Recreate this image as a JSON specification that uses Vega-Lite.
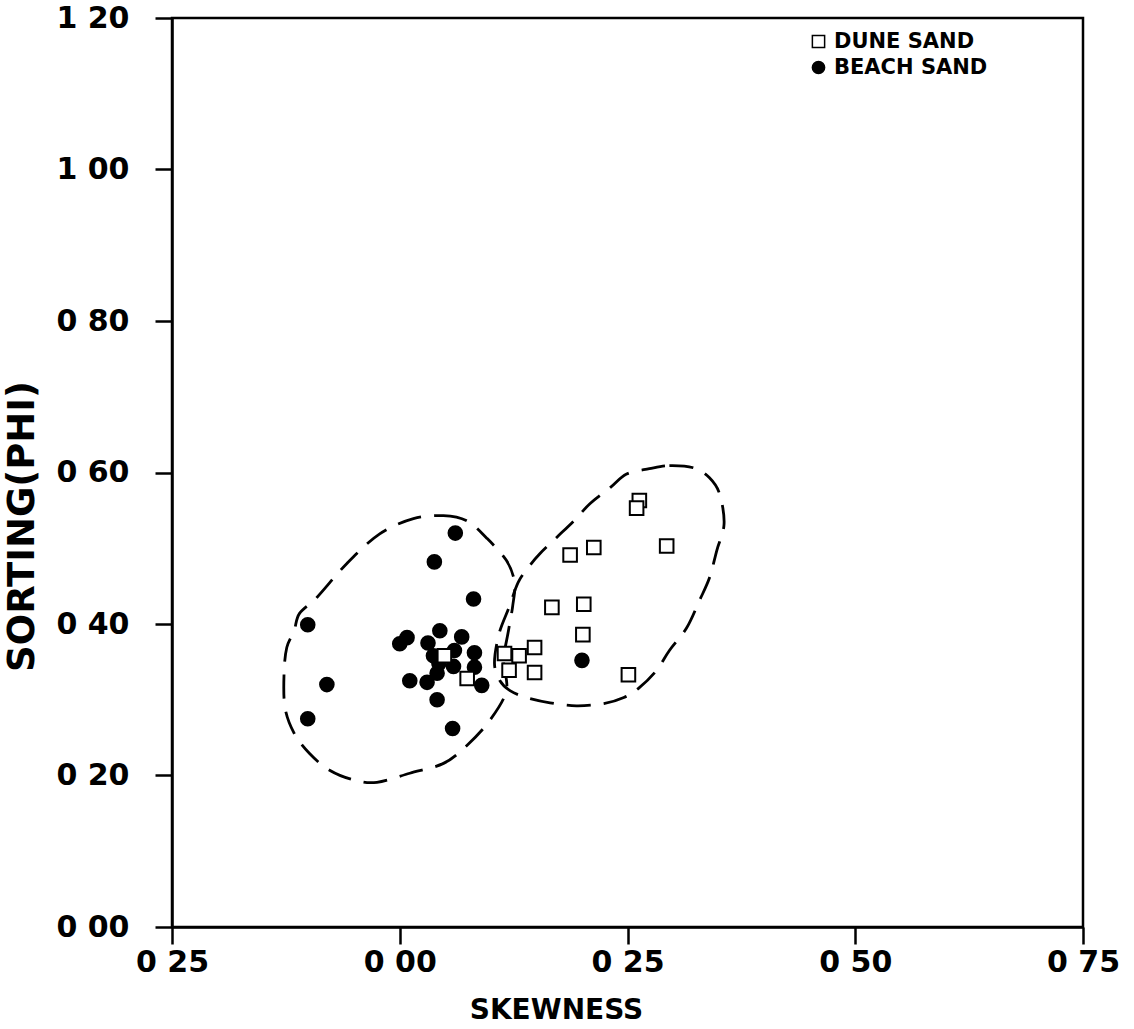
{
  "$schema": "https://vega.github.io/schema/vega-lite/v6.json",
  "width": 911,
  "height": 909,
  "autosize": {"type": "none"},
  "padding": {"left": 172, "top": 18, "right": 51, "bottom": 102},
  "background": "white",
  "config": {
    "view": {"stroke": "black", "strokeWidth": 2.5},
    "font": "DejaVu Sans",
    "axis": {
      "grid": false,
      "domainColor": "black",
      "domainWidth": 2.5,
      "tickColor": "black",
      "tickWidth": 2.5,
      "tickSize": 17,
      "labelFont": "DejaVu Sans",
      "labelFontWeight": "bold",
      "labelFontSize": 30,
      "labelColor": "black",
      "labelOverlap": false,
      "labelFlush": false,
      "labelBound": false,
      "titleColor": "black",
      "titleFont": "DejaVu Sans",
      "titleFontWeight": "bold"
    }
  },
  "datasets": {
    "outlines": [
      {"region": "beach", "i": 1, "x": 0.015, "y": 0.539},
      {"region": "beach", "i": 2, "x": 0.048, "y": 0.543},
      {"region": "beach", "i": 3, "x": 0.074, "y": 0.536},
      {"region": "beach", "i": 4, "x": 0.095, "y": 0.514},
      {"region": "beach", "i": 5, "x": 0.117, "y": 0.484},
      {"region": "beach", "i": 6, "x": 0.126, "y": 0.455},
      {"region": "beach", "i": 7, "x": 0.124, "y": 0.424},
      {"region": "beach", "i": 8, "x": 0.119, "y": 0.389},
      {"region": "beach", "i": 9, "x": 0.114, "y": 0.352},
      {"region": "beach", "i": 10, "x": 0.117, "y": 0.312},
      {"region": "beach", "i": 11, "x": 0.099, "y": 0.273},
      {"region": "beach", "i": 12, "x": 0.074, "y": 0.240},
      {"region": "beach", "i": 13, "x": 0.048, "y": 0.216},
      {"region": "beach", "i": 14, "x": 0.011, "y": 0.203},
      {"region": "beach", "i": 15, "x": -0.025, "y": 0.191},
      {"region": "beach", "i": 16, "x": -0.050, "y": 0.194},
      {"region": "beach", "i": 17, "x": -0.077, "y": 0.207},
      {"region": "beach", "i": 18, "x": -0.099, "y": 0.229},
      {"region": "beach", "i": 19, "x": -0.116, "y": 0.256},
      {"region": "beach", "i": 20, "x": -0.126, "y": 0.290},
      {"region": "beach", "i": 21, "x": -0.127, "y": 0.335},
      {"region": "beach", "i": 22, "x": -0.124, "y": 0.369},
      {"region": "beach", "i": 23, "x": -0.116, "y": 0.391},
      {"region": "beach", "i": 24, "x": -0.110, "y": 0.414},
      {"region": "beach", "i": 25, "x": -0.091, "y": 0.435},
      {"region": "beach", "i": 26, "x": -0.058, "y": 0.480},
      {"region": "beach", "i": 27, "x": -0.022, "y": 0.519},
      {"region": "dune", "i": 1, "x": 0.274, "y": 0.605},
      {"region": "dune", "i": 2, "x": 0.296, "y": 0.609},
      {"region": "dune", "i": 3, "x": 0.323, "y": 0.606},
      {"region": "dune", "i": 4, "x": 0.340, "y": 0.593},
      {"region": "dune", "i": 5, "x": 0.351, "y": 0.572},
      {"region": "dune", "i": 6, "x": 0.356, "y": 0.532},
      {"region": "dune", "i": 7, "x": 0.348, "y": 0.497},
      {"region": "dune", "i": 8, "x": 0.340, "y": 0.461},
      {"region": "dune", "i": 9, "x": 0.329, "y": 0.431},
      {"region": "dune", "i": 10, "x": 0.315, "y": 0.395},
      {"region": "dune", "i": 11, "x": 0.296, "y": 0.365},
      {"region": "dune", "i": 12, "x": 0.282, "y": 0.339},
      {"region": "dune", "i": 13, "x": 0.263, "y": 0.316},
      {"region": "dune", "i": 14, "x": 0.246, "y": 0.303},
      {"region": "dune", "i": 15, "x": 0.224, "y": 0.295},
      {"region": "dune", "i": 16, "x": 0.194, "y": 0.292},
      {"region": "dune", "i": 17, "x": 0.165, "y": 0.296},
      {"region": "dune", "i": 18, "x": 0.139, "y": 0.303},
      {"region": "dune", "i": 19, "x": 0.121, "y": 0.312},
      {"region": "dune", "i": 20, "x": 0.110, "y": 0.325},
      {"region": "dune", "i": 21, "x": 0.104, "y": 0.348},
      {"region": "dune", "i": 22, "x": 0.109, "y": 0.387},
      {"region": "dune", "i": 23, "x": 0.120, "y": 0.422},
      {"region": "dune", "i": 24, "x": 0.130, "y": 0.455},
      {"region": "dune", "i": 25, "x": 0.142, "y": 0.476},
      {"region": "dune", "i": 26, "x": 0.154, "y": 0.493},
      {"region": "dune", "i": 27, "x": 0.172, "y": 0.514},
      {"region": "dune", "i": 28, "x": 0.191, "y": 0.536},
      {"region": "dune", "i": 29, "x": 0.209, "y": 0.559},
      {"region": "dune", "i": 30, "x": 0.231, "y": 0.580},
      {"region": "dune", "i": 31, "x": 0.249, "y": 0.598}
    ],
    "samples": [
      {"type": "BEACH SAND", "skewness": 0.061, "sorting": 0.520},
      {"type": "BEACH SAND", "skewness": 0.038, "sorting": 0.482},
      {"type": "BEACH SAND", "skewness": 0.081, "sorting": 0.433},
      {"type": "BEACH SAND", "skewness": -0.101, "sorting": 0.399},
      {"type": "BEACH SAND", "skewness": -0.080, "sorting": 0.320},
      {"type": "BEACH SAND", "skewness": -0.101, "sorting": 0.275},
      {"type": "BEACH SAND", "skewness": 0.044, "sorting": 0.391},
      {"type": "BEACH SAND", "skewness": 0.068, "sorting": 0.383},
      {"type": "BEACH SAND", "skewness": 0.008, "sorting": 0.382},
      {"type": "BEACH SAND", "skewness": 0.000, "sorting": 0.374},
      {"type": "BEACH SAND", "skewness": 0.031, "sorting": 0.375},
      {"type": "BEACH SAND", "skewness": 0.060, "sorting": 0.365},
      {"type": "BEACH SAND", "skewness": 0.082, "sorting": 0.362},
      {"type": "BEACH SAND", "skewness": 0.037, "sorting": 0.358},
      {"type": "BEACH SAND", "skewness": 0.043, "sorting": 0.348},
      {"type": "BEACH SAND", "skewness": 0.059, "sorting": 0.344},
      {"type": "BEACH SAND", "skewness": 0.082, "sorting": 0.343},
      {"type": "BEACH SAND", "skewness": 0.011, "sorting": 0.325},
      {"type": "BEACH SAND", "skewness": 0.030, "sorting": 0.323},
      {"type": "BEACH SAND", "skewness": 0.041, "sorting": 0.335},
      {"type": "BEACH SAND", "skewness": 0.090, "sorting": 0.319},
      {"type": "BEACH SAND", "skewness": 0.041, "sorting": 0.300},
      {"type": "BEACH SAND", "skewness": 0.058, "sorting": 0.262},
      {"type": "BEACH SAND", "skewness": 0.200, "sorting": 0.352},
      {"type": "DUNE SAND", "skewness": 0.049, "sorting": 0.358},
      {"type": "DUNE SAND", "skewness": 0.074, "sorting": 0.328},
      {"type": "DUNE SAND", "skewness": 0.115, "sorting": 0.361},
      {"type": "DUNE SAND", "skewness": 0.131, "sorting": 0.358},
      {"type": "DUNE SAND", "skewness": 0.148, "sorting": 0.369},
      {"type": "DUNE SAND", "skewness": 0.120, "sorting": 0.339},
      {"type": "DUNE SAND", "skewness": 0.148, "sorting": 0.336},
      {"type": "DUNE SAND", "skewness": 0.167, "sorting": 0.422},
      {"type": "DUNE SAND", "skewness": 0.202, "sorting": 0.426},
      {"type": "DUNE SAND", "skewness": 0.201, "sorting": 0.386},
      {"type": "DUNE SAND", "skewness": 0.187, "sorting": 0.491},
      {"type": "DUNE SAND", "skewness": 0.213, "sorting": 0.501},
      {"type": "DUNE SAND", "skewness": 0.293, "sorting": 0.503},
      {"type": "DUNE SAND", "skewness": 0.263, "sorting": 0.563},
      {"type": "DUNE SAND", "skewness": 0.260, "sorting": 0.553},
      {"type": "DUNE SAND", "skewness": 0.251, "sorting": 0.333}
    ]
  },
  "layer": [
    {
      "data": {"name": "outlines"},
      "mark": {"type": "line", "interpolate": "cardinal-closed", "stroke": "black", "strokeWidth": 2.8, "strokeDash": [24, 13]},
      "encoding": {
        "x": {"field": "x", "type": "quantitative"},
        "y": {"field": "y", "type": "quantitative"},
        "detail": {"field": "region", "type": "nominal"},
        "order": {"field": "i", "type": "quantitative"}
      }
    },
    {
      "data": {"name": "samples"},
      "mark": {"type": "point", "filled": true, "stroke": "black", "strokeWidth": 2, "opacity": 1, "size": 185},
      "encoding": {
        "x": {
          "field": "skewness",
          "type": "quantitative",
          "scale": {"domain": [-0.25, 0.75], "nice": false, "zero": false},
          "axis": {
            "values": [-0.25, 0, 0.25, 0.5, 0.75],
            "labelExpr": "replace(format(abs(datum.value), '.2f'), '.', ' ')",
            "labelPadding": 3,
            "title": "SKEWNESS",
            "titleFontSize": 28,
            "titleX": 384,
            "titleY": 91,
            "titleAlign": "center",
            "titleBaseline": "alphabetic"
          }
        },
        "y": {
          "field": "sorting",
          "type": "quantitative",
          "scale": {"domain": [0, 1.2], "nice": false, "zero": false},
          "axis": {
            "values": [0, 0.2, 0.4, 0.6, 0.8, 1.0, 1.2],
            "labelExpr": "replace(format(abs(datum.value), '.2f'), '.', ' ')",
            "labelPadding": 26,
            "title": "SORTING(PHI)",
            "titleFontSize": 37,
            "titleAngle": -90,
            "titleX": -150,
            "titleY": 508,
            "titleAlign": "center",
            "titleBaseline": "middle"
          }
        },
        "shape": {
          "field": "type",
          "type": "nominal",
          "scale": {"domain": ["DUNE SAND", "BEACH SAND"], "range": ["square", "circle"]},
          "legend": {"title": null, "orient": "none", "legendX": 636, "legendY": 13, "labelFont": "DejaVu Sans", "labelFontWeight": "bold", "labelFontSize": 21, "labelColor": "black", "symbolSize": 150, "rowPadding": 4, "labelOffset": 5, "padding": 0,
            "encode": {"symbols": {"update": {"stroke": {"value": "black"}, "strokeWidth": {"value": 2}, "opacity": {"value": 1}, "fill": {"signal": "datum.value === 'DUNE SAND' ? 'white' : 'black'"}}}}}
        },
        "fill": {
          "field": "type",
          "type": "nominal",
          "scale": {"domain": ["DUNE SAND", "BEACH SAND"], "range": ["white", "black"]},
          "legend": null
        }
      }
    }
  ]
}
